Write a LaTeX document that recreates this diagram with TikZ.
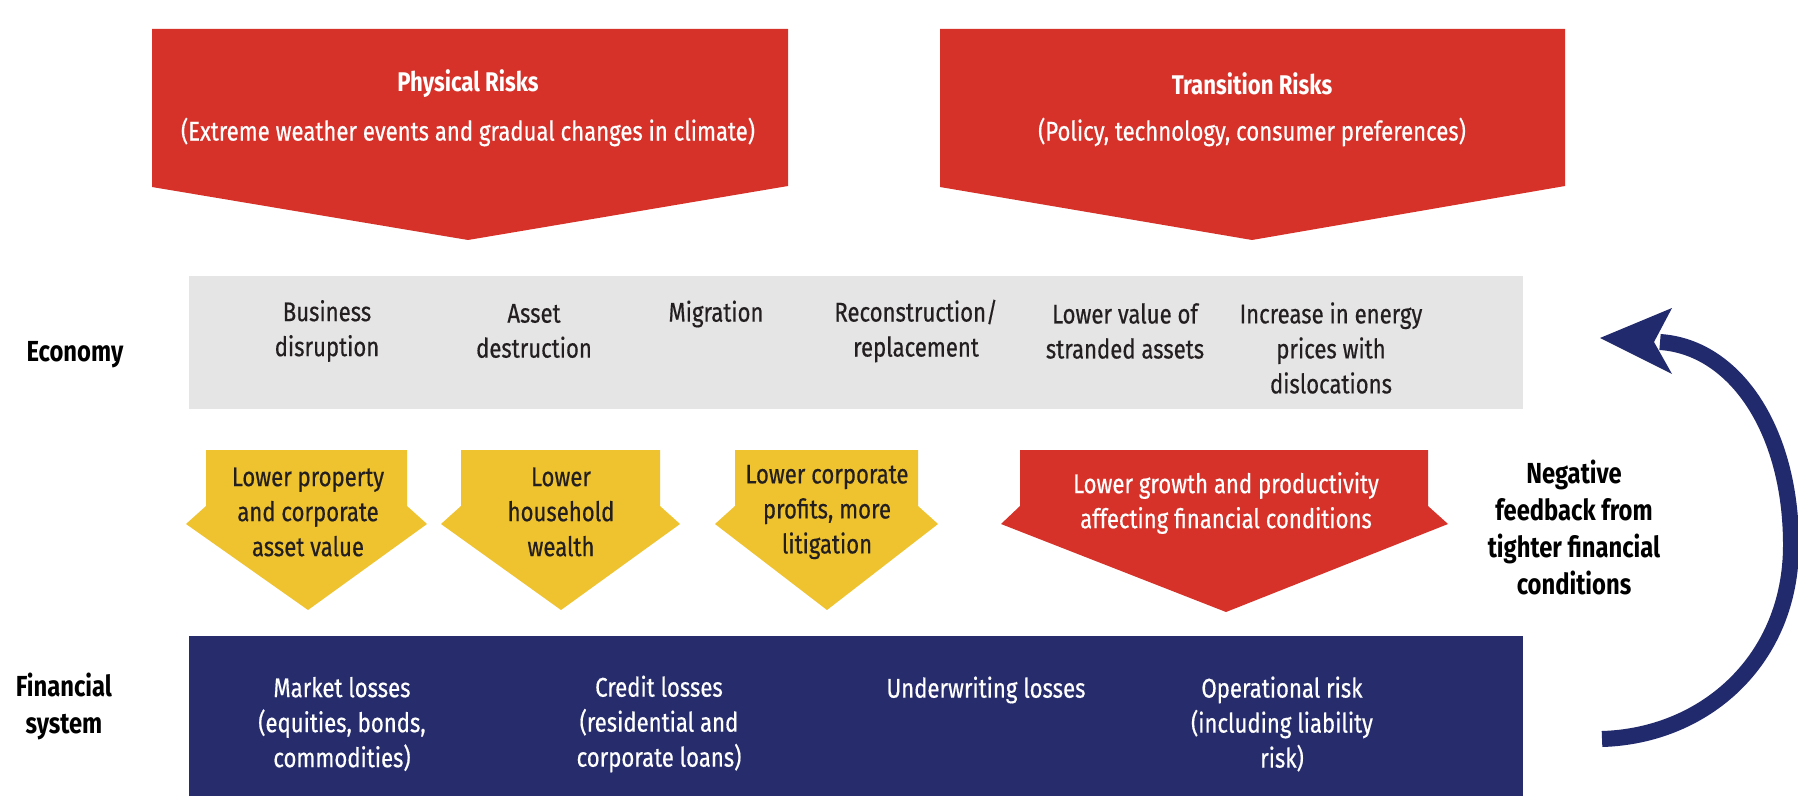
\documentclass[tikz,border=0pt]{standalone}
\usepackage{fontspec}
\setmainfont{Fira Sans}[FakeStretch=0.82, UprightFeatures={FakeBold=0.5}]
\definecolor{riskred}{RGB}{214,50,42}
\definecolor{gold}{RGB}{239,195,48}
\definecolor{navy}{RGB}{39,45,108}
\definecolor{lightgray}{RGB}{229,229,229}
\definecolor{txtc}{RGB}{35,31,32}
\definecolor{loopblue}{RGB}{34,42,110}
\tikzset{
  base/.style={inner sep=0pt, align=center, font=\fontsize{27}{35}\selectfont},
  lbl/.style={base, font=\bfseries\fontsize{29}{37}\selectfont, text=black},
  dtxt/.style={base, text=txtc},
  wtxt/.style={base, text=white},
  ttl/.style={base, text=white, font=\bfseries\fontsize{27}{35}\selectfont},
  band/.style={draw=none, inner sep=0pt, anchor=north west},
  redshape/.style={fill=riskred, draw=none},
  goldshape/.style={fill=gold, draw=none},
}
\begin{document}
\begin{tikzpicture}[x=1pt,y=-1pt]
\useasboundingbox[fill=white] (0,0) rectangle (1798,802);

% top risk arrows
\path[redshape] (152,29) -- (788,29) -- (788,186) -- (468,240) -- (152,187) -- cycle;
\path[redshape] (940,29) -- (1565,29) -- (1565,186) -- (1252,240) -- (940,187) -- cycle;
\node[ttl]  (phys)  at (468,84)  {Physical Risks};
\node[wtxt] (physs) at (468,132) {(Extreme weather events and gradual changes in climate)};
\node[ttl]  (trans)  at (1252,84)  {Transition Risks};
\node[wtxt] (transs) at (1252,132) {(Policy, technology, consumer preferences)};

% economy band
\node[band, fill=lightgray, minimum width=1334pt, minimum height=133pt] (econ) at (189,276) {};
\node[lbl] (econlbl) at (75,355) {Economy};
\node[dtxt] (e1) at (327,331) {Business\\disruption};
\node[dtxt] (e2) at (534,331) {Asset\\destruction};
\node[dtxt] (e3) at (716,314) {Migration};
\node[dtxt] (e4) at (916,331) {Reconstruction/\\replacement};
\node[dtxt] (e5) at (1125,331) {Lower value of\\stranded assets};
\node[dtxt] (e6) at (1331,348) {Increase in energy\\prices with\\dislocations};

% transmission arrows
\path[goldshape] (206,450) -- (407,450) -- (407,506) -- (427,524) -- (308,610) -- (186,524) -- (206,506) -- cycle;
\path[goldshape] (461,450) -- (660,450) -- (660,506) -- (680,524) -- (561,610) -- (441,524) -- (461,506) -- cycle;
\path[goldshape] (735,450) -- (918,450) -- (918,506) -- (938,524) -- (827,610) -- (715,524) -- (735,506) -- cycle;
\path[redshape] (1020,450) -- (1428,450) -- (1428,506) -- (1448,524) -- (1226,612) -- (1001,524) -- (1020,506) -- cycle;
\node[dtxt] (y1) at (308,512) {Lower property\\and corporate\\asset value};
\node[dtxt] (y2) at (561,512) {Lower\\household\\wealth};
\node[dtxt] (y3) at (827,512) {Lower corporate\\profits, more\\litigation};
\node[wtxt] (r2) at (1226,503) {Lower growth and productivity\\affecting financial conditions};

% financial system band
\node[band, fill=navy, minimum width=1334pt, minimum height=160pt] (fin) at (189,636) {};
\node[lbl] (finlbl) at (64,706) {Financial\\system};
\node[wtxt] (f1) at (342,724) {Market losses\\(equities, bonds,\\commodities)};
\node[wtxt] (f2) at (659,724) {Credit losses\\(residential and\\corporate loans)};
\node[wtxt] (f3) at (986,690) {Underwriting losses};
\node[wtxt] (f4) at (1282,724) {Operational risk\\(including liability\\risk)};

% feedback loop
\node[lbl] (fb) at (1574,527) {Negative\\feedback from\\tighter financial\\conditions};
\coordinate (fbS) at (1602,739);
\coordinate (fbE) at (1660,342);
\draw[loopblue, line width=16pt] (fbS) .. controls (1705,736) and (1791,660) .. (1791,545)
  .. controls (1791,430) and (1735,347) .. (fbE);
\fill[loopblue] (1600,338) -- (1672,308) -- (1654,342) -- (1672,374) -- cycle;
\end{tikzpicture}
\end{document}
